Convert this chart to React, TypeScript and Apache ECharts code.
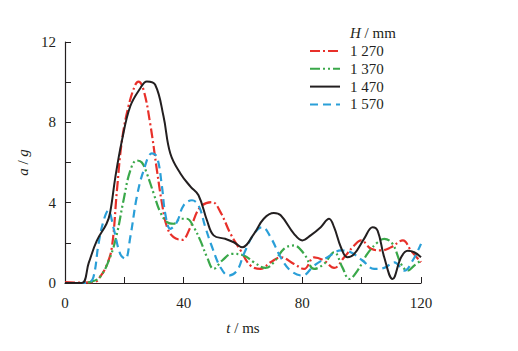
import React, { useEffect, useRef } from "react";
import * as echarts from "echarts";

const legendTitle = "H / mm";
const seriesNames = ["1 270", "1 370", "1 470", "1 570"];
const xTicks = [0, 40, 80, 120];
const yTicks = [0, 4, 8, 12];

const t1270 = [0, 5, 10, 11.8, 14, 15.8, 17.5, 19.2, 21.4, 23.7, 24.8, 26.5, 28.7, 31, 32.7, 34.4, 36.6, 39.4, 42.3, 45.6, 49.6, 52.4, 55.8, 59.2, 62.5, 65.9, 69.3, 72.7, 77.2, 80.6, 84, 87.3, 90.7, 94.1, 97.5, 99.8, 103.2, 106.5, 109.9, 113.9, 116.6, 120];
const a1270 = [0.05, 0.02, 0.05, 0.3, 0.87, 1.78, 4.6, 7.1, 8.8, 9.87, 10.03, 9.6, 7.95, 5.6, 3.95, 2.78, 2.28, 2.15, 2.78, 3.78, 4.03, 3.53, 2.45, 1.62, 0.87, 0.7, 1.03, 1.28, 0.95, 0.7, 1.28, 1.12, 0.75, 1.28, 1.87, 2.12, 1.7, 1.62, 1.78, 2.12, 1.62, 1.03];

const t1370 = [0, 5, 8.5, 11.8, 15.2, 17.5, 19.7, 22, 24.2, 25.9, 27.6, 29.9, 32.1, 34.4, 36.6, 38.9, 41.1, 43.4, 45.6, 47.9, 50.1, 53, 56.3, 60.3, 63.7, 67.6, 70.4, 73.8, 77.2, 80.6, 84, 87.3, 90.7, 93.5, 95.8, 98.6, 101.9, 105.4, 107.6, 110.4, 113.3, 115.5, 117.7, 120];
const a1370 = [0, 0, 0.05, 0.3, 1.28, 2.45, 4.1, 5.6, 6.1, 6.0, 5.45, 4.45, 3.53, 3.03, 2.95, 3.2, 3.2, 2.78, 2.12, 1.28, 0.7, 1.12, 1.45, 1.37, 1.03, 0.75, 1.03, 1.7, 1.87, 1.45, 0.7, 0.95, 1.53, 0.78, 0.2, 0.62, 1.45, 2.03, 2.2, 1.95, 0.95, 0.62, 0.87, 1.12];

const t1470 = [0, 5.6, 8, 10.7, 14, 15.2, 17, 19.2, 22, 25.4, 27.6, 30.4, 33.2, 35.5, 38.9, 42.3, 45, 47.9, 50.1, 54, 56.9, 59.7, 63.7, 67, 70.4, 72.7, 77.2, 80, 82.8, 86.2, 89, 90.7, 93, 95.2, 97.5, 100.8, 103.7, 105.4, 107.6, 110.4, 113.3, 115.5, 117.7, 120];
const a1470 = [0, 0, 1.0, 2.1, 2.95, 3.5, 5.3, 7.1, 8.8, 9.7, 10.03, 9.87, 8.3, 6.45, 5.45, 4.8, 4.37, 3.1, 2.37, 2.2, 2.03, 1.78, 2.45, 3.2, 3.48, 3.37, 2.45, 2.12, 2.37, 2.78, 3.2, 2.78, 1.78, 1.28, 1.45, 2.2, 2.78, 2.6, 1.28, 0.2, 1.28, 1.6, 1.53, 1.28];

const t1570 = [0, 5, 8, 9.6, 11.3, 13, 14.6, 16.3, 18.6, 20.3, 22, 24.2, 26.5, 29.3, 31, 32.7, 33.8, 35.5, 37.7, 40, 42.8, 45, 47.3, 49.6, 52.4, 55.2, 58, 60.3, 63.7, 66.5, 69.3, 72.7, 76, 80, 84, 88.5, 93, 96.3, 100.3, 104.2, 107.6, 111, 114.4, 117.2, 120];
const a1570 = [0, 0, 0.02, 0.3, 1.95, 3.1, 3.6, 2.78, 1.45, 1.2, 2.28, 4.28, 5.6, 6.45, 6.28, 4.78, 3.45, 2.7, 3.03, 3.87, 4.12, 3.87, 2.78, 1.78, 0.78, 0.37, 0.62, 1.45, 2.45, 2.78, 2.28, 1.28, 0.62, 0.37, 0.87, 1.28, 1.62, 1.53, 1.12, 0.7, 0.75, 1.03, 0.62, 1.12, 1.95];

const colors = ["#e8302a", "#3aa84a", "#231f20", "#2a9fd8"];
const dashes: (number[] | null)[] = [[10, 3, 2, 3], [10, 3, 2, 3, 2, 3], null, [8, 5]];
const FONT = "'Liberation Serif', 'Times New Roman', serif";

function pairs(t: number[], a: number[]) {
  return t.map((v, i) => [v, a[i]]);
}

export default function App() {
  const ref = useRef<HTMLDivElement>(null);
  useEffect(() => {
    if (!ref.current) return;
    document.body.style.margin = "0";
    const chart = echarts.init(ref.current, null, { renderer: "svg" });
    const datasets = [pairs(t1270, a1270), pairs(t1370, a1370), pairs(t1470, a1470), pairs(t1570, a1570)];
    const axisColor = "#231f20";
    const legendX = 310;
    const legendY0 = 51;
    const legendStep = 17.8;
    const graphics: any[] = [
      {
        type: "text",
        x: 350,
        y: 33,
        style: {
          text: "{i|H} / mm",
          rich: { i: { fontStyle: "italic", fontFamily: FONT, fontSize: 15, fill: axisColor } },
          fontFamily: FONT,
          fontSize: 15,
          fill: axisColor,
          verticalAlign: "middle",
        },
      },
    ];
    seriesNames.forEach((n, i) => {
      const y = legendY0 + i * legendStep;
      graphics.push({
        type: "line",
        shape: { x1: legendX, y1: y, x2: legendX + 30, y2: y },
        style: { stroke: colors[i], lineWidth: 2, lineDash: dashes[i] || undefined },
      });
      graphics.push({
        type: "text",
        x: 350,
        y: y,
        style: { text: n, fontFamily: FONT, fontSize: 15, fill: axisColor, verticalAlign: "middle" },
      });
    });
    chart.setOption({
      animation: false,
      grid: { left: 65, right: 97, top: 42, bottom: 68 },
      xAxis: {
        type: "value",
        min: 0,
        max: 120,
        interval: 20,
        name: "{i|t} / ms",
        nameLocation: "middle",
        nameGap: 37,
        nameTextStyle: {
          fontFamily: FONT,
          fontSize: 15,
          color: axisColor,
          rich: { i: { fontStyle: "italic", fontFamily: FONT, fontSize: 15, color: axisColor } },
        },
        axisLine: { lineStyle: { color: axisColor, width: 1.2 } },
        axisTick: { inside: true, length: 6, lineStyle: { color: axisColor } },
        axisLabel: {
          fontFamily: FONT,
          fontSize: 15,
          color: axisColor,
          margin: 12,
          formatter: (v: number) => (xTicks.includes(v) ? String(v) : ""),
        },
        splitLine: { show: false },
      },
      yAxis: {
        type: "value",
        min: 0,
        max: 12,
        interval: 2,
        name: "{i|a} / {i|g}",
        nameLocation: "middle",
        nameGap: 34,
        nameRotate: 90,
        nameTextStyle: {
          fontFamily: FONT,
          fontSize: 15,
          color: axisColor,
          rich: { i: { fontStyle: "italic", fontFamily: FONT, fontSize: 15, color: axisColor } },
        },
        axisLine: { show: true, lineStyle: { color: axisColor, width: 1.2 } },
        axisTick: { show: true, inside: true, length: 6, lineStyle: { color: axisColor } },
        axisLabel: {
          fontFamily: FONT,
          fontSize: 15,
          color: axisColor,
          margin: 9,
          formatter: (v: number) => (yTicks.includes(v) ? String(v) : ""),
        },
        splitLine: { show: false },
      },
      series: seriesNames.map((n, i) => ({
        name: n,
        type: "line",
        data: datasets[i],
        smooth: 0.4,
        showSymbol: false,
        symbol: "none",
        z: i === 2 ? 3 : 2,
        lineStyle: {
          color: colors[i],
          width: i === 2 ? 2 : 2.2,
          type: dashes[i] || "solid",
        },
      })),
      graphic: graphics,
    });
    return () => chart.dispose();
  }, []);
  return <div ref={ref} style={{ width: 518, height: 351 }} />;
}
